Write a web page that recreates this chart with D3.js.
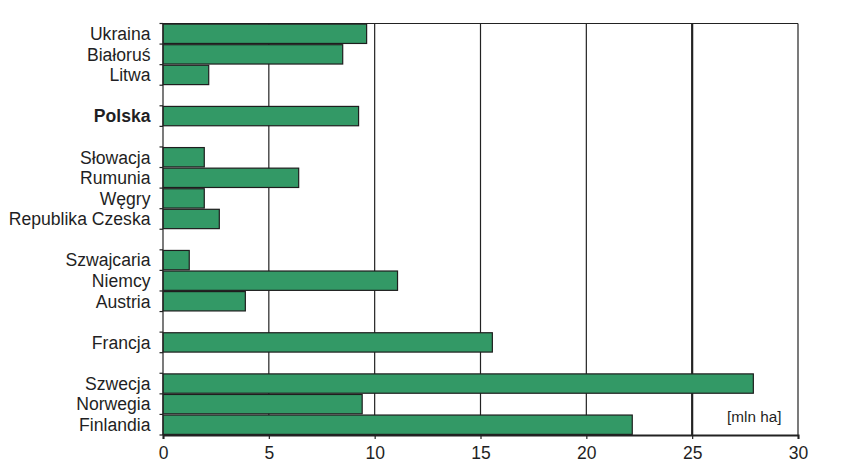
<!DOCTYPE html>
<html><head><meta charset="utf-8">
<script src="https://cdn.jsdelivr.net/npm/d3@7"></script>
<style>body{margin:0;background:#fff}svg{display:block}text{font-family:"Liberation Sans",Arial,sans-serif;fill:#1f1f24}</style>
</head><body><svg id="c" width="867" height="469"></svg>
<script>
// slots ("_g" = empty gap row)
const categories = ["Ukraina","Białoruś","Litwa","_g1","Polska","_g2","Słowacja","Rumunia","Węgry","Republika Czeska","_g3","Szwajcaria","Niemcy","Austria","_g4","Francja","_g5","Szwecja","Norwegia","Finlandia"];
const values = [9.62,8.49,2.16,null,9.24,null,1.95,6.41,1.95,2.66,null,1.24,11.08,3.89,null,15.56,null,27.89,9.41,22.17];
const xTicks = [0,5,10,15,20,25,30];
const unitLabel = "[mln ha]";
const boldCategory = "Polska";

const svg = d3.select("#c");
const m = {l:163, t:23.5, r:798, b:435};
const x = d3.scaleLinear().domain([0,30]).range([m.l, m.r]);
const y = d3.scaleBand().domain(categories).range([m.t, m.b]).paddingInner(0.06).paddingOuter(0.03);
const yb = d3.scaleBand().domain(categories).range([m.t, m.b]);

// gridlines
svg.append("g").selectAll("line").data(xTicks.filter(d=>d>0)).join("line")
  .attr("x1",d=>x(d)).attr("x2",d=>x(d)).attr("y1",m.t).attr("y2",m.b)
  .attr("stroke","#222").attr("stroke-width",d=>d===25?2.2:1.2);
svg.append("line").attr("x1",m.l).attr("x2",m.r).attr("y1",m.t).attr("y2",m.t).attr("stroke","#222").attr("stroke-width",1.2);

// bars
const data = categories.map((c,i)=>({c, v:values[i]})).filter(d=>d.v!==null);
svg.append("g").selectAll("rect").data(data).join("rect")
  .attr("x",x(0)).attr("y",d=>y(d.c)).attr("width",d=>x(d.v)-x(0)).attr("height",y.bandwidth())
  .attr("fill","#339966").attr("stroke","#1e1e1e").attr("stroke-width",1.2);

// y axis: ticks at slot boundaries
const bounds = categories.map(c=>yb(c)).concat([m.b]);
const ya = svg.append("g");
ya.append("line").attr("x1",m.l).attr("x2",m.l).attr("y1",m.t).attr("y2",m.b).attr("stroke","#222").attr("stroke-width",1.2);
ya.selectAll("line.t").data(bounds).join("line").attr("class","t")
  .attr("x1",m.l-3.5).attr("x2",m.l).attr("y1",d=>d).attr("y2",d=>d).attr("stroke","#222").attr("stroke-width",1.2);
ya.selectAll("text").data(categories.filter(c=>!c.startsWith("_"))).join("text")
  .attr("x",150.5).attr("y",d=>yb(d)+yb.bandwidth()/2).attr("dy","0.36em")
  .attr("text-anchor","end").style("font-size","17.6px")
  .attr("font-weight",d=>d===boldCategory?"bold":"normal").text(d=>d);

// x axis
const xa = svg.append("g").attr("transform",`translate(0,${m.b})`)
  .call(d3.axisBottom(x).tickValues(xTicks).tickSize(4).tickPadding(8).tickFormat(d3.format("d")));
xa.attr("font-size",null).attr("font-family",null);
xa.select(".domain").attr("stroke","#222").attr("stroke-width",2);
xa.selectAll(".tick line").attr("stroke","#222").attr("stroke-width",1.2);
xa.selectAll(".tick text").style("font-size","17.5px").attr("fill","#1f1f24");

svg.append("text").attr("x",781.5).attr("y",422).attr("text-anchor","end").style("font-size","15.3px").text(unitLabel);
</script></body></html>
